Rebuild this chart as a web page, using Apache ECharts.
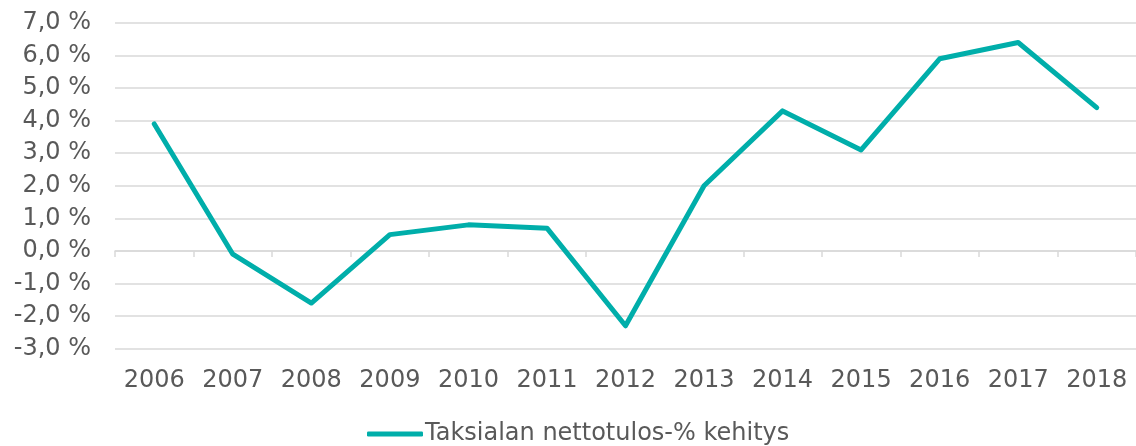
<!DOCTYPE html>
<html>
<head>
<meta charset="utf-8">
<script src="https://cdn.jsdelivr.net/npm/echarts@6/dist/echarts.min.js"></script>
<style>
  html, body { margin: 0; padding: 0; background: #ffffff; }
  #chart { width: 1136px; height: 446px; }
</style>
</head>
<body>
<div id="chart"></div>
<script>
// Years on the category axis
const years = ['2006', '2007', '2008', '2009', '2010', '2011', '2012', '2013', '2014', '2015', '2016', '2017', '2018'];
// Net result development of the taxi sector, in percent
const nettotulos = [3.9, -0.1, -1.6, 0.5, 0.8, 0.7, -2.3, 2.0, 4.3, 3.1, 5.9, 6.4, 4.4];
const seriesName = 'Taksialan nettotulos-% kehitys';

const textColor = '#595959';
const gridColor = '#d9d9d9';
const lineColor = '#00aeaa';
const font = 'Verdana, "DejaVu Sans", sans-serif';
const fontSize = 24;

const chart = echarts.init(document.getElementById('chart'), null, { renderer: 'canvas' });
chart.setOption({
  animation: false,
  backgroundColor: '#ffffff',
  grid: { left: 115, top: 23, width: 1024, height: 325.6, containLabel: false },
  legend: {
    data: [seriesName],
    top: 422,
    left: 367,
    padding: 0,
    itemWidth: 56,
    itemHeight: 5,
    itemGap: 0,
    icon: 'roundRect',
    textStyle: { color: textColor, fontSize: fontSize, fontFamily: font, padding: [0, 0, 0, -3] }
  },
  xAxis: {
    type: 'category',
    data: years,
    boundaryGap: true,
    axisLine: { onZero: true, lineStyle: { color: gridColor, width: 1.5 } },
    axisTick: { show: true, interval: 0, length: 6, lineStyle: { color: gridColor, width: 1.5 } },
    axisLabel: { interval: 0, color: textColor, fontSize: fontSize, fontFamily: font, margin: 20 },
    position: 'bottom'
  },
  yAxis: {
    type: 'value',
    min: -3,
    max: 7,
    interval: 1,
    axisLine: { show: false },
    axisTick: { show: false },
    splitLine: { lineStyle: { color: gridColor, width: 1.5 } },
    axisLabel: {
      color: textColor, fontSize: fontSize, fontFamily: font, margin: 24,
      formatter: v => v.toFixed(1).replace('.', ',') + ' %'
    }
  },
  series: [{
    name: seriesName,
    type: 'line',
    data: nettotulos,
    symbol: 'none',
    lineStyle: { color: lineColor, width: 5, cap: 'round', join: 'round' },
    itemStyle: { color: lineColor }
  }]
});
</script>
</body>
</html>
